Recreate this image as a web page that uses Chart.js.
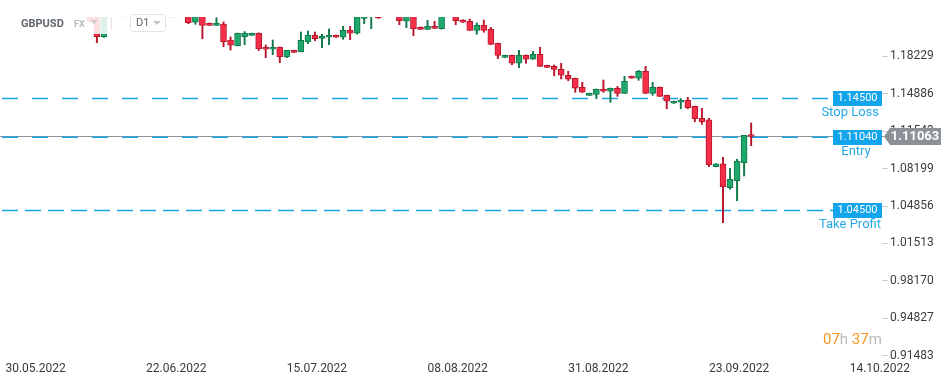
<!DOCTYPE html>
<html>
<head>
<meta charset="utf-8">
<script src="https://cdn.jsdelivr.net/npm/chart.js@4.4.0/dist/chart.umd.min.js"></script>
<style>
  html, body { margin: 0; padding: 0; background: #fff; }
  #wrap { width: 949px; height: 384px; }
</style>
</head>
<body>
<div id="wrap"><canvas id="chart" width="949" height="384"></canvas></div>
<script>
// GBPUSD D1 candles, 30.05.2022 .. 30.09.2022 (one per session, incl. Sunday opens)
const opens = [
  1.2600, 1.2625, 1.2600, 1.2490, 1.2590, 1.2490, 1.2500, 1.2530, 1.2590, 1.2530,
  1.2490, 1.2310, 1.2300, 1.2185, 1.1997, 1.2180, 1.2350, 1.2240, 1.2250, 1.2270,
  1.2280, 1.2260, 1.2270, 1.2265, 1.2270, 1.2265, 1.2195, 1.2126, 1.2180, 1.2117,
  1.2099, 1.2111, 1.1968, 1.1917, 1.1997, 1.2008, 1.2027, 1.1903, 1.1885, 1.1903,
  1.1819, 1.1876, 1.1863, 1.1953, 1.2010, 1.1983, 1.1992, 1.2010, 1.1992, 1.2054,
  1.2028, 1.2160, 1.2182, 1.2185, 1.2185, 1.2240, 1.2190, 1.2135, 1.2180, 1.2081,
  1.2063, 1.2090, 1.2069, 1.2215, 1.2200, 1.2146, 1.2135, 1.2054, 1.2099, 1.2063,
  1.1938, 1.1813, 1.1831, 1.1760, 1.1831, 1.1796, 1.1840, 1.1742, 1.1733, 1.1706,
  1.1653, 1.1626, 1.1546, 1.1474, 1.1483, 1.1528, 1.1510, 1.1537, 1.1492, 1.1644,
  1.1626, 1.1688, 1.1492, 1.1546, 1.1474, 1.1403, 1.1412, 1.1429, 1.1376, 1.1269,
  1.1254, 1.0837, 1.0863, 1.0649, 1.0712, 1.0872, 1.1120
];
const highs = [
  1.2665, 1.2635, 1.2610, 1.2600, 1.2600, 1.2510, 1.2600, 1.2600, 1.2600, 1.2600,
  1.2500, 1.2330, 1.2320, 1.2200, 1.2210, 1.2406, 1.2360, 1.2260, 1.2290, 1.2320,
  1.2300, 1.2320, 1.2325, 1.2280, 1.2330, 1.2290, 1.2212, 1.2190, 1.2195, 1.2120,
  1.2167, 1.2129, 1.1995, 1.2030, 1.2043, 1.2029, 1.2032, 1.1923, 1.1968, 1.1906,
  1.1876, 1.1877, 1.2039, 1.2048, 1.2039, 1.2019, 1.2066, 1.2012, 1.2090, 1.2090,
  1.2185, 1.2210, 1.2245, 1.2195, 1.2290, 1.2295, 1.2210, 1.2195, 1.2200, 1.2085,
  1.2144, 1.2135, 1.2230, 1.2275, 1.2210, 1.2150, 1.2155, 1.2120, 1.2146, 1.2081,
  1.1940, 1.1833, 1.1833, 1.1876, 1.1835, 1.1867, 1.1903, 1.1744, 1.1745, 1.1760,
  1.1688, 1.1628, 1.1590, 1.1494, 1.1530, 1.1611, 1.1539, 1.1554, 1.1644, 1.1646,
  1.1697, 1.1733, 1.1590, 1.1548, 1.1476, 1.1423, 1.1444, 1.1456, 1.1378, 1.1358,
  1.1269, 1.0865, 1.0921, 1.0822, 1.0903, 1.1117, 1.1227
];
const lows = [
  1.2590, 1.2575, 1.2460, 1.2470, 1.2480, 1.2480, 1.2480, 1.2430, 1.2510, 1.2490,
  1.2300, 1.2290, 1.2125, 1.1944, 1.1990, 1.2175, 1.2240, 1.2230, 1.2220, 1.2250,
  1.2190, 1.2210, 1.2230, 1.2255, 1.2240, 1.2190, 1.2113, 1.2108, 1.1979, 1.2097,
  1.2097, 1.1908, 1.1879, 1.1915, 1.1926, 1.2006, 1.1872, 1.1810, 1.1837, 1.1765,
  1.1810, 1.1857, 1.1862, 1.1935, 1.1962, 1.1899, 1.1926, 1.1990, 1.1974, 1.1971,
  1.2020, 1.2113, 1.2069, 1.2160, 1.2180, 1.2185, 1.2104, 1.2078, 1.2006, 1.2060,
  1.2060, 1.2070, 1.2065, 1.2185, 1.2104, 1.2124, 1.2052, 1.2019, 1.2037, 1.1927,
  1.1801, 1.1810, 1.1747, 1.1721, 1.1760, 1.1794, 1.1731, 1.1722, 1.1649, 1.1620,
  1.1604, 1.1501, 1.1499, 1.1472, 1.1444, 1.1501, 1.1412, 1.1465, 1.1490, 1.1624,
  1.1608, 1.1490, 1.1474, 1.1463, 1.1354, 1.1401, 1.1354, 1.1354, 1.1238, 1.1215,
  1.0837, 1.0835, 1.0337, 1.0635, 1.0533, 1.0754, 1.1024
];
const closes = [
  1.2625, 1.2600, 1.2490, 1.2590, 1.2490, 1.2500, 1.2530, 1.2590, 1.2530, 1.2490,
  1.2310, 1.2300, 1.2140, 1.1997, 1.2180, 1.2350, 1.2240, 1.2250, 1.2270, 1.2280,
  1.2260, 1.2270, 1.2265, 1.2270, 1.2265, 1.2195, 1.2122, 1.2180, 1.2099, 1.2099,
  1.2120, 1.1953, 1.1921, 1.2028, 1.2027, 1.2027, 1.1890, 1.1885, 1.1903, 1.1819,
  1.1876, 1.1858, 1.1965, 1.2010, 1.1979, 1.2001, 1.2010, 1.1992, 1.2054, 1.2028,
  1.2175, 1.2185, 1.2190, 1.2165, 1.2240, 1.2190, 1.2140, 1.2180, 1.2069, 1.2063,
  1.2090, 1.2072, 1.2215, 1.2200, 1.2140, 1.2126, 1.2054, 1.2099, 1.2054, 1.1929,
  1.1831, 1.1831, 1.1760, 1.1831, 1.1796, 1.1840, 1.1733, 1.1724, 1.1706, 1.1653,
  1.1617, 1.1537, 1.1501, 1.1492, 1.1528, 1.1510, 1.1537, 1.1492, 1.1599, 1.1626,
  1.1688, 1.1492, 1.1546, 1.1465, 1.1421, 1.1421, 1.1429, 1.1363, 1.1265, 1.1238,
  1.0854, 1.0863, 1.0658, 1.0724, 1.0885, 1.1117, 1.1106
];

// date labels on the time axis (candle index -> label)
const dateTickIndex = [0, 20, 40, 60, 80, 100, 120];
const dateTickLabels = ['30.05.2022', '22.06.2022', '15.07.2022', '08.08.2022',
                        '31.08.2022', '23.09.2022', '14.10.2022'];

// price axis ticks
const priceTicks = [1.18229, 1.14886, 1.11543, 1.08199, 1.04856, 1.01513, 0.98170, 0.94827, 0.91483];

// trade levels
const stopLoss = 1.145;
const entryLevel = 1.1104;
const takeProfit = 1.045;
const lastPrice = 1.11063;

const UP_FILL = '#20a86c', UP_LINE = '#10784a';
const DN_FILL = '#f52e48', DN_LINE = '#b8172d';
const LEVEL_BLUE = '#18a5ea';

const isUp = opens.map((o, i) => closes[i] >= o);

const tradePlugin = {
  id: 'trade',
  beforeDatasetsDraw(chart) {
    const { ctx } = chart;
    const y = chart.scales.y;
    ctx.save();
    // last price line
    const py = Math.round(y.getPixelForValue(lastPrice)) + 0.5;
    ctx.strokeStyle = '#8d9399';
    ctx.lineWidth = 1;
    ctx.beginPath(); ctx.moveTo(0, py); ctx.lineTo(884, py); ctx.stroke();
    // dashed trade levels
    [[stopLoss, [16, 14]], [entryLevel, [16, 14]], [takeProfit, [16, 7]]].forEach(([v, dash]) => {
      const ly = y.getPixelForValue(v) + 0.5;
      ctx.strokeStyle = LEVEL_BLUE;
      ctx.lineWidth = 1.5;
      ctx.setLineDash(dash);
      ctx.beginPath(); ctx.moveTo(2, ly); ctx.lineTo(833, ly); ctx.stroke();
    });
    ctx.restore();
  },
  afterDraw(chart) {
    const { ctx } = chart;
    const y = chart.scales.y;
    ctx.save();

    // level boxes + captions
    const levels = [
      [stopLoss, 'Stop Loss', 'right', 879],
      [entryLevel, 'Entry', 'center', 856],
      [takeProfit, 'Take Profit', 'right', 881]
    ];
    levels.forEach(([v, name, align, tx]) => {
      const ly = y.getPixelForValue(v);
      ctx.fillStyle = '#12a5eb';
      ctx.fillRect(833, Math.round(ly) - 7, 49, 15);
      ctx.fillStyle = '#fff';
      ctx.font = '11px Roboto';
      ctx.textAlign = 'center';
      ctx.textBaseline = 'middle';
      ctx.fillText(v.toFixed(5), 857.5, Math.round(ly) + 0.5);
      ctx.fillStyle = '#26a9e6';
      ctx.font = '13px Roboto';
      ctx.textAlign = align;
      ctx.fillText(name, tx, Math.round(ly) + 15);
    });

    // current price tag
    const py = Math.round(y.getPixelForValue(lastPrice)) + 0.5;
    ctx.fillStyle = '#8b9197';
    ctx.beginPath();
    ctx.moveTo(884, py);
    ctx.lineTo(890, py - 8.5);
    ctx.lineTo(941, py - 8.5);
    ctx.lineTo(941, py + 8.5);
    ctx.lineTo(890, py + 8.5);
    ctx.closePath();
    ctx.fill();
    ctx.fillStyle = '#fff';
    ctx.font = 'bold 13px Roboto';
    ctx.textAlign = 'center';
    ctx.textBaseline = 'middle';
    ctx.fillText(lastPrice.toFixed(5), 915, py + 0.5);

    // candle countdown
    ctx.font = '15px Roboto';
    ctx.textAlign = 'left';
    ctx.textBaseline = 'middle';
    let x = 823;
    [['07', '#f7931e'], ['h ', '#b8b8b8'], ['37', '#f7931e'], ['m', '#b8b8b8']].forEach(([t, c]) => {
      ctx.fillStyle = c;
      ctx.fillText(t, x, 340);
      x += ctx.measureText(t).width;
    });

    // instrument header (semi transparent panel over the chart)
    ctx.fillStyle = 'rgba(255,255,255,0.85)';
    ctx.fillRect(0, 0, 112, 34);
    ctx.fillStyle = '#5f666d';
    ctx.font = 'bold 11px Roboto';
    ctx.textAlign = 'left';
    ctx.fillText('GBPUSD', 21, 24);
    ctx.fillStyle = '#b4babf';
    ctx.font = 'bold 9px Roboto';
    ctx.fillText('FX', 74, 24.5);
    ctx.fillStyle = 'rgba(190,190,190,0.7)';
    ctx.beginPath(); ctx.moveTo(90, 20); ctx.lineTo(98, 20); ctx.lineTo(94, 24); ctx.closePath(); ctx.fill();
    ctx.strokeStyle = '#e3e3e3';
    ctx.lineWidth = 1;
    ctx.beginPath(); ctx.moveTo(111.5, 17); ctx.lineTo(111.5, 30); ctx.stroke();
    ctx.fillStyle = '#fff';
    ctx.strokeStyle = '#e2e2e2';
    ctx.beginPath(); ctx.roundRect(130.5, 14.5, 35, 17, 3); ctx.fill(); ctx.stroke();
    ctx.fillStyle = '#666';
    ctx.font = '11px Roboto';
    ctx.fillText('D1', 136, 23.5);
    ctx.fillStyle = '#c4c4c4';
    ctx.beginPath(); ctx.moveTo(153, 21); ctx.lineTo(161, 21); ctx.lineTo(157, 25); ctx.closePath(); ctx.fill();

    ctx.restore();
  }
};

new Chart(document.getElementById('chart'), {
  type: 'bar',
  data: {
    datasets: [
      {
        label: 'body',
        order: 0,
        clip: 0,
        data: opens.map((o, i) => ({ x: i, y: [o, closes[i]] })),
        backgroundColor: isUp.map(u => u ? UP_FILL : DN_FILL),
        borderColor: isUp.map(u => u ? UP_LINE : DN_LINE),
        borderWidth: 1,
        borderSkipped: false,
        barThickness: 6,
        minBarLength: 2,
        grouped: false
      },
      {
        label: 'wick',
        order: 1,
        clip: 0,
        data: lows.map((l, i) => ({ x: i, y: [l, highs[i]] })),
        backgroundColor: isUp.map(u => u ? UP_LINE : DN_LINE),
        borderWidth: 0,
        barThickness: 1.3,
        grouped: false
      }
    ]
  },
  options: {
    responsive: false,
    animation: false,
    devicePixelRatio: 1,
    layout: { padding: { top: 17, left: 0, right: 0, bottom: 0 } },
    plugins: { legend: { display: false }, tooltip: { enabled: false } },
    scales: {
      x: {
        type: 'linear',
        position: 'bottom',
        offset: false,
        min: -0.77,
        max: 124.6,
        grid: { display: false, drawTicks: false, offset: false },
        border: { display: false },
        afterBuildTicks: s => { s.ticks = dateTickIndex.map(v => ({ value: v })); },
        afterFit: s => { s.height = 23; },
        ticks: {
          align: 'start',
          autoSkip: false,
          maxRotation: 0,
          padding: 1,
          color: '#3a3a3a',
          font: { family: 'Roboto', size: 12 },
          callback: v => dateTickLabels[dateTickIndex.indexOf(v)] || ''
        }
      },
      y: {
        position: 'right',
        min: 0.91018,
        max: 1.21732,
        grid: { drawOnChartArea: false, drawTicks: true, tickLength: 6, color: '#cfcfcf' },
        border: { display: false },
        afterBuildTicks: s => { s.ticks = priceTicks.map(v => ({ value: v })); },
        afterFit: s => { s.width = 67; },
        ticks: {
          padding: 2,
          color: '#3c3c3c',
          font: { family: 'Roboto', size: 12 },
          callback: v => v.toFixed(5)
        }
      }
    }
  },
  plugins: [tradePlugin]
});
</script>
</body>
</html>
